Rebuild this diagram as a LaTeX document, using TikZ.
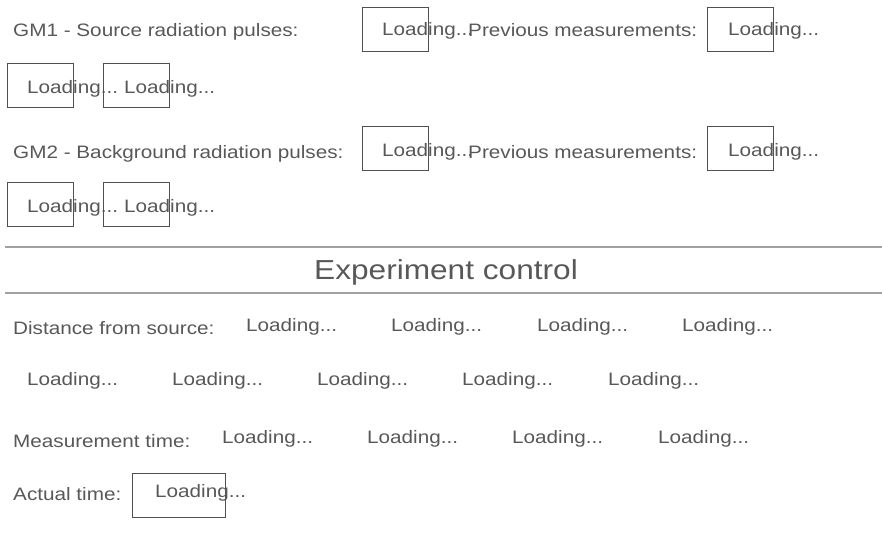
\documentclass[tikz,border=0pt]{standalone}
\usepackage{fontspec}
\setmainfont{Liberation Sans}[FakeStretch=1.15]
\definecolor{txt}{HTML}{585858}
\definecolor{boxc}{HTML}{505050}
\definecolor{rule}{HTML}{A0A0A0}
\tikzset{
  lbl/.style={anchor=base west, inner sep=0pt, text=txt, font=\fontsize{18}{21}\selectfont},
  valbox/.style={anchor=north west, draw=boxc, line width=1.1pt, inner sep=0pt, minimum width=66pt, minimum height=44pt},
  widebox/.style={valbox, minimum width=93pt},
  sep/.style={draw=rule, line width=2pt},
  head/.style={anchor=base, inner sep=0pt, text=txt, font=\fontsize{27.5}{30}\selectfont}
}
\begin{document}
\begin{tikzpicture}[x=1pt,y=-1pt]
\useasboundingbox (0,0) rectangle (882,535);
% Row 1
\node[lbl] (gm1) at (13,37) {GM1 - Source radiation pulses:};
\node[valbox] (b1a) at (362,7) {};
\node[lbl] (l1a) at (382,36) {Loading...};
\node[lbl] (p1) at (468,37) {Previous measurements:};
\node[valbox] (b1b) at (707,7) {};
\node[lbl] (l1b) at (728,36) {Loading...};
% Row 2
\node[valbox] (b2a) at (7,63) {};
\node[lbl] (l2a) at (27,93) {Loading...};
\node[valbox] (b2b) at (103,63) {};
\node[lbl] (l2b) at (124,93) {Loading...};
% Row 3
\node[lbl] (gm2) at (13,158) {GM2 - Background radiation pulses:};
\node[valbox] (b3a) at (362,126) {};
\node[lbl] (l3a) at (382,156) {Loading...};
\node[lbl] (p2) at (468,158) {Previous measurements:};
\node[valbox] (b3b) at (707,126) {};
\node[lbl] (l3b) at (728,156) {Loading...};
% Row 4
\node[valbox] (b4a) at (7,182) {};
\node[lbl] (l4a) at (27,212) {Loading...};
\node[valbox] (b4b) at (103,182) {};
\node[lbl] (l4b) at (124,212) {Loading...};
% Heading
\coordinate (r1l) at (5,247);
\coordinate (r1r) at (882,247);
\coordinate (r2l) at (5,293);
\coordinate (r2r) at (882,293);
\draw[sep] (r1l) -- (r1r);
\draw[sep] (r2l) -- (r2r);
\node[head] (hd) at (446,279) {Experiment control};
% Distance
\node[lbl] (dist) at (13,334) {Distance from source:};
\node[lbl] (d1) at (246,331) {Loading...};
\node[lbl] (d2) at (391,331) {Loading...};
\node[lbl] (d3) at (537,331) {Loading...};
\node[lbl] (d4) at (682,331) {Loading...};
\node[lbl] (e1) at (27,385) {Loading...};
\node[lbl] (e2) at (172,385) {Loading...};
\node[lbl] (e3) at (317,385) {Loading...};
\node[lbl] (e4) at (462,385) {Loading...};
\node[lbl] (e5) at (608,385) {Loading...};
% Measurement time
\node[lbl] (mt) at (13,447) {Measurement time:};
\node[lbl] (m1) at (222,443) {Loading...};
\node[lbl] (m2) at (367,443) {Loading...};
\node[lbl] (m3) at (512,443) {Loading...};
\node[lbl] (m4) at (658,443) {Loading...};
% Actual time
\node[lbl] (at) at (13,500) {Actual time:};
\node[widebox] (ab) at (132,473) {};
\node[lbl] (al) at (155,497) {Loading...};
\end{tikzpicture}
\end{document}
